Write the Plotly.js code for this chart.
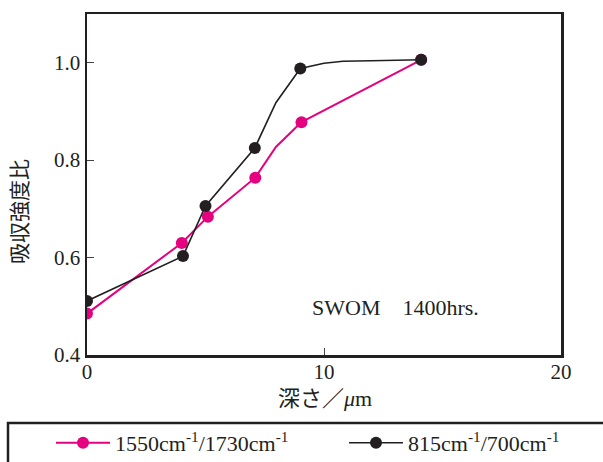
<!DOCTYPE html>
<html>
<head>
<meta charset="utf-8">
<script src="https://cdn.plot.ly/plotly-3.0.1.min.js"></script>
<style>html,body{margin:0;padding:0;background:#fff;}#chart{width:603px;height:462px;}</style>
</head>
<body>
<div id="chart"></div>
<script>
// Measured points
var depthA = [0, 4, 5.1, 7.1, 9.05, 14.1];
var ratioA = [0.485, 0.630, 0.684, 0.764, 0.878, 1.006];
var depthB = [0, 4.05, 5.0, 7.08, 9.0, 14.1];
var ratioB = [0.511, 0.603, 0.706, 0.825, 0.988, 1.006];
// Bends of the drawn curves between measured points
var bendXA = [7.97];
var bendYA = [0.827];
var bendXB = [7.97, 10.0, 10.8, 12.0];
var bendYB = [0.918, 0.999, 1.003, 1.004];
var nameA = '1550cm<sup>-1</sup>/1730cm<sup>-1</sup>';
var nameB = '815cm<sup>-1</sup>/700cm<sup>-1</sup>';
var xTicks = [0, 10, 20];
var yTicks = [0.4, 0.6, 0.8, 1.0];
var yTickText = ['0.4', '0.6', '0.8', '1.0'];
var colorA = '#e5007f';
var colorB = '#231f20';

function merge(dx, dy, bx, by, col) {
  var pts = [];
  for (var i = 0; i < dx.length; i++) pts.push({x: dx[i], y: dy[i], c: col});
  for (var j = 0; j < bx.length; j++) pts.push({x: bx[j], y: by[j], c: 'rgba(0,0,0,0)'});
  pts.sort(function (a, b) { return a.x - b.x; });
  return {
    x: pts.map(function (p) { return p.x; }),
    y: pts.map(function (p) { return p.y; }),
    c: pts.map(function (p) { return p.c; })
  };
}
var mA = merge(depthA, ratioA, bendXA, bendYA, colorA);
var mB = merge(depthB, ratioB, bendXB, bendYB, colorB);

var serif = '"Liberation Serif", "Noto Sans CJK JP", serif';

var traces = [
  {x: mA.x, y: mA.y, mode: 'lines+markers', name: nameA, legend: 'legend',
   line: {color: colorA, width: 2}, marker: {color: mA.c, size: 12}},
  {x: mB.x, y: mB.y, mode: 'lines+markers', name: nameB, legend: 'legend2',
   line: {color: colorB, width: 1.6}, marker: {color: mB.c, size: 12}}
];

function legendAt(px) {
  return {
    orientation: 'h', xref: 'container', yref: 'container', x: px / 603, xanchor: 'left',
    y: 1 - 443 / 462, yanchor: 'middle',
    font: {family: serif, size: 22, color: '#231f20'}, bgcolor: 'rgba(0,0,0,0)', borderwidth: 0,
    itemwidth: 54
  };
}

var layout = {
  width: 603, height: 462,
  margin: {l: 87, r: 42, t: 14, b: 107},
  paper_bgcolor: '#fff', plot_bgcolor: '#fff',
  font: {family: serif, size: 21, color: '#231f20'},
  showlegend: true,
  xaxis: {
    range: [0, 20], tickvals: xTicks, ticks: 'inside', ticklen: 7, tickwidth: 1,
    showgrid: false, zeroline: false, showline: true, linewidth: 2.5, linecolor: '#231f20', mirror: true,
    tickfont: {family: serif, size: 21}, automargin: false, ticklabelstandoff: -4
  },
  yaxis: {
    range: [0.4, 1.1], tickvals: yTicks, ticktext: yTickText,
    ticks: 'inside', ticklen: 7, tickwidth: 1,
    showgrid: false, zeroline: false, showline: true, linewidth: 2.5, linecolor: '#231f20', mirror: true,
    tickfont: {family: serif, size: 21}, automargin: false
  },
  legend: legendAt(51),
  legend2: legendAt(344),
  shapes: [
    {type: 'rect', xref: 'paper', yref: 'paper', x0: (8 - 87) / 474, x1: 1.25, y0: (355 - 423) / 341, y1: -0.36,
     line: {color: '#231f20', width: 2.5}, fillcolor: 'rgba(0,0,0,0)'}
  ],
  annotations: [
    {text: 'SWOM　1400hrs.', xref: 'paper', yref: 'paper', x: (310 - 87) / 474, y: (355 - 307) / 341,
     xanchor: 'left', yanchor: 'middle', showarrow: false, font: {family: serif, size: 22}},
    {text: '深さ／<i>μ</i>m', xref: 'paper', yref: 'paper', x: (325 - 87) / 474, y: (355 - 399) / 341,
     xanchor: 'center', yanchor: 'middle', showarrow: false, font: {family: serif, size: 22}},
    {text: '吸収強度比', xref: 'paper', yref: 'paper', x: (20 - 87) / 474, y: (355 - 212) / 341,
     xanchor: 'center', yanchor: 'middle', textangle: -90, showarrow: false, font: {family: serif, size: 21}}
  ]
};

Plotly.newPlot('chart', traces, layout, {displayModeBar: false, staticPlot: true});
</script>
</body>
</html>
